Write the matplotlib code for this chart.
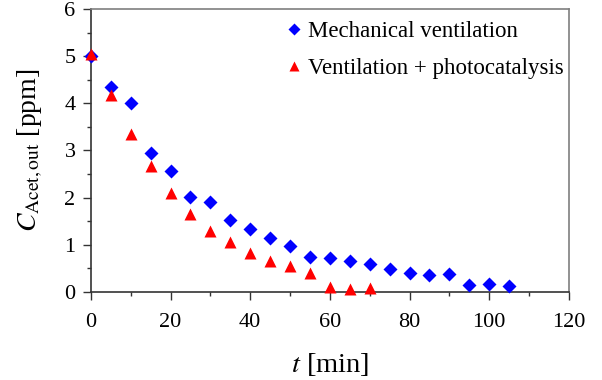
import numpy as np
import matplotlib.pyplot as plt
from matplotlib.ticker import MultipleLocator

plt.rcParams['font.family'] = ['Liberation Serif', 'DejaVu Serif']
plt.rcParams['mathtext.fontset'] = 'stix'

# time [min]
t_mech = [0, 5, 10, 15, 20, 25, 30, 35, 40, 45, 50, 55, 60, 65, 70, 75, 80, 85, 90, 95, 100, 105]
c_mech = [5.0, 4.35, 4.0, 2.95, 2.57, 2.01, 1.91, 1.53, 1.34, 1.15, 0.98, 0.75, 0.72,
          0.65, 0.59, 0.49, 0.40, 0.36, 0.38, 0.15, 0.17, 0.13]

t_photo = [0, 5, 10, 15, 20, 25, 30, 35, 40, 45, 50, 55, 60, 65, 70]
c_photo = [5.05, 4.18, 3.35, 2.68, 2.10, 1.65, 1.30, 1.05, 0.83, 0.66, 0.54, 0.40, 0.10, 0.07, 0.08]

fig = plt.figure(figsize=(6.02, 3.8), dpi=100)
ax = fig.add_axes([0.151, 0.232, 0.794, 0.744])

ax.plot(t_mech, c_mech, 'D', color='#0000ff', ms=7.5, mec='none',
        label='Mechanical ventilation', clip_on=False, zorder=3)
ax.plot(t_photo, c_photo, '^', color='#ff0000', ms=8.5, mec='none',
        label='Ventilation + photocatalysis', clip_on=False, zorder=3)

ax.set_xlim(0, 120)
ax.set_ylim(0, 6)
ax.xaxis.set_major_locator(MultipleLocator(20))
ax.xaxis.set_minor_locator(MultipleLocator(10))
ax.yaxis.set_major_locator(MultipleLocator(1))
ax.yaxis.set_minor_locator(MultipleLocator(0.5))

ax.tick_params(which='major', direction='out', length=6, width=1, labelsize=16, color='#333333')
ax.tick_params(which='minor', direction='out', length=3, width=1, color='#333333')
ax.tick_params(axis='x', pad=9)
ax.tick_params(axis='y', pad=5)

for side in ['left', 'bottom']:
    ax.spines[side].set_color('#333333')
for side in ['top', 'right']:
    ax.spines[side].set_color('#7f7f7f')
for s in ax.spines.values():
    s.set_linewidth(1.2)

ax.set_xlabel(r'$t$ [min]', fontsize=20.5, labelpad=14)
ax.set_ylabel(r'$C_\mathrm{Acet,out}$ [ppm]', fontsize=20, labelpad=14)

ax.legend(loc='upper right', bbox_to_anchor=(1.015, 1.0), frameon=False, fontsize=16.5,
          handletextpad=0.1, borderaxespad=0.13, labelspacing=0.7, handlelength=1.0,
          markerscale=0.8)

fig.savefig('out.png', dpi=100)
